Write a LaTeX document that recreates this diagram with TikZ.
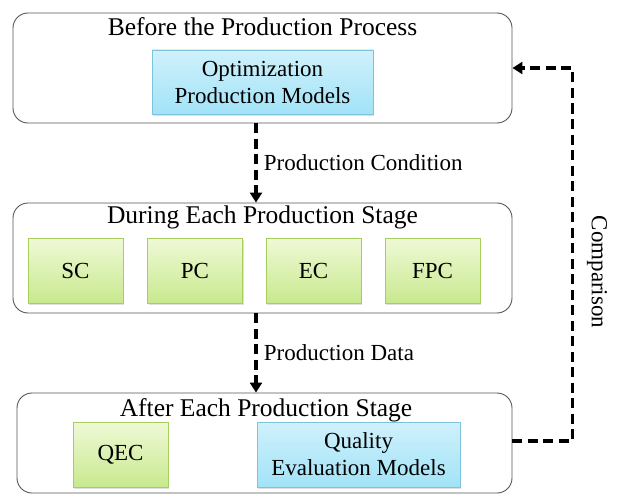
\documentclass[tikz,border=0pt]{standalone}
\usepackage{fontspec}
\setmainfont{Liberation Serif}
\usetikzlibrary{arrows.meta,shadows}
\definecolor{bluetop}{HTML}{CFF1FB}
\definecolor{bluebot}{HTML}{A2E3F8}
\definecolor{blueedge}{HTML}{7DC3DE}
\definecolor{greentop}{HTML}{EFF9D6}
\definecolor{greenbot}{HTML}{C8E98E}
\definecolor{greenedge}{HTML}{A6CF60}
\definecolor{outeredge}{HTML}{555555}
\tikzset{
  stage/.style={draw=outeredge, line width=0.9pt, rounded corners=15pt, minimum width=499pt, inner sep=0pt},
  title/.style={font=\fontsize{25.5}{28}\selectfont, inner sep=0pt},
  bluebox/.style={draw=blueedge, line width=0.8pt, top color=bluetop, bottom color=bluebot, align=center,
    font=\fontsize{23}{27}\selectfont, inner sep=0pt,
    drop shadow={shadow xshift=1pt, shadow yshift=-1.5pt, opacity=0.25}},
  greenbox/.style={draw=greenedge, line width=0.8pt, top color=greentop, bottom color=greenbot,
    font=\fontsize{23}{27}\selectfont, minimum width=95pt, minimum height=65pt, inner sep=0pt,
    drop shadow={shadow xshift=1pt, shadow yshift=-1.5pt, opacity=0.25}},
  conn/.style={line width=3.8pt, dash pattern=on 10pt off 5.5pt, -{Triangle[width=12pt,length=10pt]}},
  lbl/.style={font=\fontsize{23}{27}\selectfont, inner sep=0pt}
}
\begin{document}
\begin{tikzpicture}[x=1pt,y=-1pt]
\useasboundingbox (0,0) rectangle (619,495);
% stage boxes
\node[stage, minimum height=110pt] (top) at (262.5,68) {};
\node[stage, minimum height=110pt] (mid) at (262.5,258) {};
\node[stage, minimum width=495pt, minimum height=100pt] (bot) at (264.5,443) {};
% titles
\node[title] (t1) at (262.5,27) {Before the Production Process};
\node[title] (t2) at (262.5,217) {During Each Production Stage};
\node[title] (t3) at (266,410) {After Each Production Stage};
% inner boxes
\node[bluebox, minimum width=221pt, minimum height=64pt] (opm) at (262.5,82) {Optimization\\Production Models};
\node[greenbox] (sc) at (75.5,270.5) {SC};
\node[greenbox] (pc) at (195,270.5) {PC};
\node[greenbox] (ec) at (313.5,270.5) {EC};
\node[greenbox] (fpc) at (432.5,270.5) {FPC};
\node[greenbox] (qec) at (120.5,454.5) {QEC};
\node[bluebox, minimum width=203pt, minimum height=65pt] (qem) at (358.5,454.5) {Quality\\Evaluation Models};
% connectors
\draw[conn] ([xshift=-6.5pt]top.south) -- ([xshift=-6.5pt]mid.north)
  node[midway, right=6pt, lbl, anchor=west] (pcond) {Production Condition};
\draw[conn] ([xshift=-6.5pt]mid.south) -- ([xshift=-8.5pt]bot.north)
  node[midway, right=6pt, lbl, anchor=west] (pdata) {Production Data};
\draw[conn] ([yshift=2pt]bot.east) -- ++(60,0) |- (top.east);
\node[lbl, rotate=-90] (cmp) at (597,272) {Comparison};
\end{tikzpicture}
\end{document}
